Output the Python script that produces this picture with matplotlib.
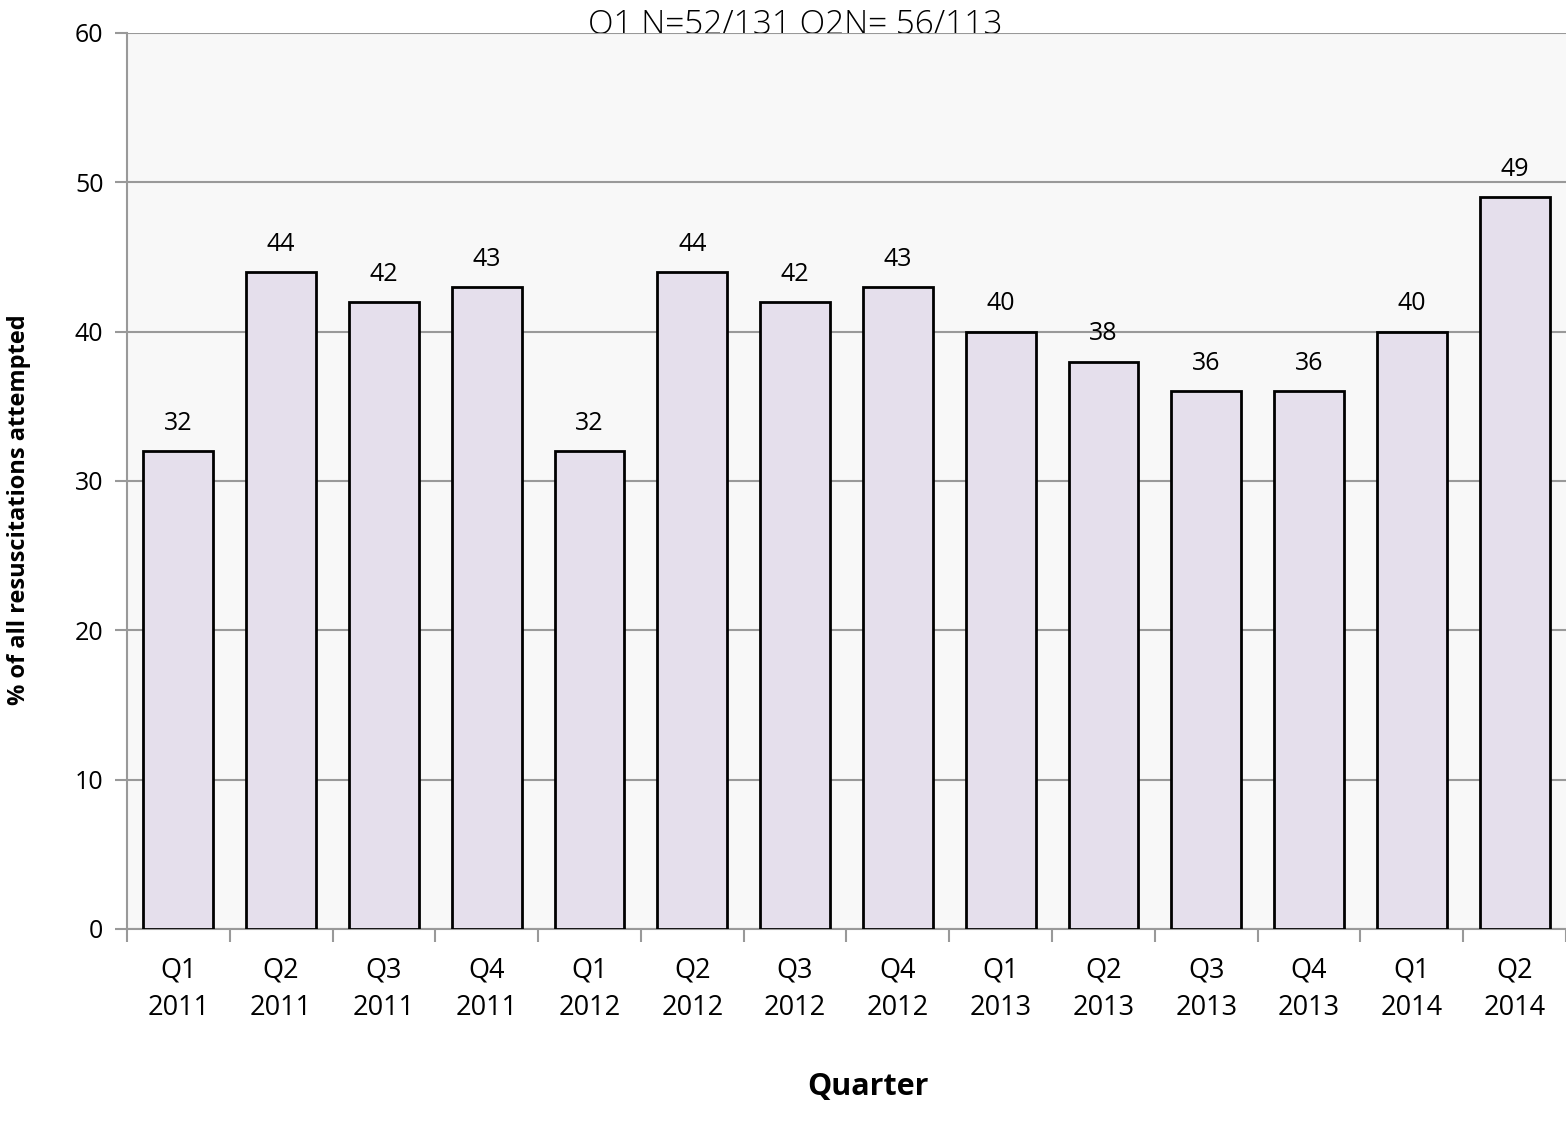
import matplotlib
matplotlib.use("Agg")
import matplotlib.pyplot as plt
import numpy as np

quarters = ["Q1", "Q2", "Q3", "Q4", "Q1", "Q2", "Q3", "Q4",
            "Q1", "Q2", "Q3", "Q4", "Q1", "Q2"]
years = ["2011", "2011", "2011", "2011", "2012", "2012", "2012", "2012",
         "2013", "2013", "2013", "2013", "2014", "2014"]
values = [32, 44, 42, 43, 32, 44, 42, 43, 40, 38, 36, 36, 40, 49]

plt.rcParams["font.family"] = ["Open Sans", "DejaVu Sans"]

fig = plt.figure(figsize=(15.66, 11.32), dpi=100)
ax = fig.add_axes([127 / 1566, 1 - 929 / 1132, 1 - 127 / 1566, (929 - 33) / 1132])
ax.set_facecolor("#f8f8f8")

x = np.arange(len(values))
bars = ax.bar(x, values, width=0.68, color="#e5dfec", edgecolor="black",
              linewidth=2, zorder=3)
for b, v in zip(bars, values):
    ax.annotate(f"{v}", (b.get_x() + b.get_width() / 2, v),
                xytext=(0, 20), textcoords="offset points",
                ha="center", va="center", fontsize=18)

ax.set_xlim(-0.5, len(values) - 0.5)
ax.set_ylim(0, 60)
ax.set_yticks(range(0, 61, 10))
ax.yaxis.grid(True, color="#999999", linewidth=1.5, zorder=0)
ax.set_axisbelow(True)

ax.set_xticks(x)
ax.set_xticklabels([f"{q}\n{y}" for q, y in zip(quarters, years)],
                   fontsize=19.5, linespacing=1.45)
ax.set_xticks(np.arange(-0.5, len(values), 1), minor=True)
ax.tick_params(axis="x", which="major", length=0, pad=20)
ax.tick_params(axis="x", which="minor", length=9, width=1.5, color="#999999")
ax.tick_params(axis="y", length=9, width=1.5, color="#999999", labelsize=18, pad=8)

for s in ["top", "right"]:
    ax.spines[s].set_visible(False)
for s in ["left", "bottom"]:
    ax.spines[s].set_color("#999999")
    ax.spines[s].set_linewidth(1.5)

# axis titles placed in figure coords so they sit where the original has them
fig.text(19 / 1566, 1 - 510 / 1132, "% of all resuscitations attempted",
         fontsize=17, fontweight="bold", rotation=90, ha="center", va="center")
fig.text(868 / 1566, 1 - 1087 / 1132, "Quarter", fontsize=22,
         fontweight="bold", ha="center", va="center")
fig.text(795 / 1566, 1 - 25 / 1132, "Q1 N=52/131 Q2N= 56/113", fontsize=24,
         fontweight="light", ha="center", va="center", zorder=-1)

fig.savefig("out.png", dpi=100)
